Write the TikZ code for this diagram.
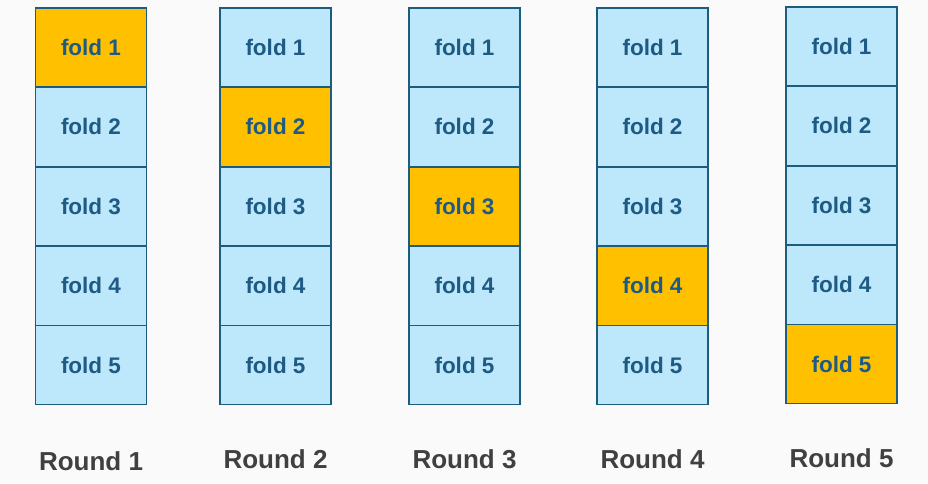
\documentclass[tikz,border=0pt]{standalone}
\usepackage{fontspec}
\setmainfont{Liberation Sans}
\definecolor{bg}{HTML}{FAFAFA}
\definecolor{cellblue}{HTML}{BDE8FB}
\definecolor{cellorange}{HTML}{FFC000}
\definecolor{edge}{HTML}{1E5C7E}
\definecolor{foldtext}{HTML}{1D5A84}
\definecolor{roundtext}{HTML}{404040}
\begin{document}
\begin{tikzpicture}[x=1pt,y=-1pt,
  cell/.style={draw=edge, line width=1.4pt, fill=cellblue, minimum width=111pt, minimum height=79pt, inner sep=0pt, outer sep=0pt, text=foldtext, font=\bfseries\fontsize{22.5}{26}\selectfont},
  hot/.style={fill=cellorange},
  roundlabel/.style={text=roundtext, font=\bfseries\fontsize{26}{30}\selectfont, inner sep=0pt}]
\fill[bg] (0,0) rectangle (928,483);
\useasboundingbox (0,0) rectangle (928,483);
\foreach \c/\x/\y/\ly in {1/91/8/461, 2/275.5/8/459, 3/464.5/8/459, 4/652.5/8/459, 5/841.5/7/458} {
  \foreach \r in {1,...,5} {
    \ifnum\r=\c
      \node[cell,hot] (c\c r\r) at (\x,{\y+39.5+(\r-1)*79.4}) {fold \r};
    \else
      \node[cell] (c\c r\r) at (\x,{\y+39.5+(\r-1)*79.4}) {fold \r};
    \fi
  }
  \node[roundlabel] (lab\c) at (\x,\ly) {Round \c};
}
\end{tikzpicture}
\end{document}
